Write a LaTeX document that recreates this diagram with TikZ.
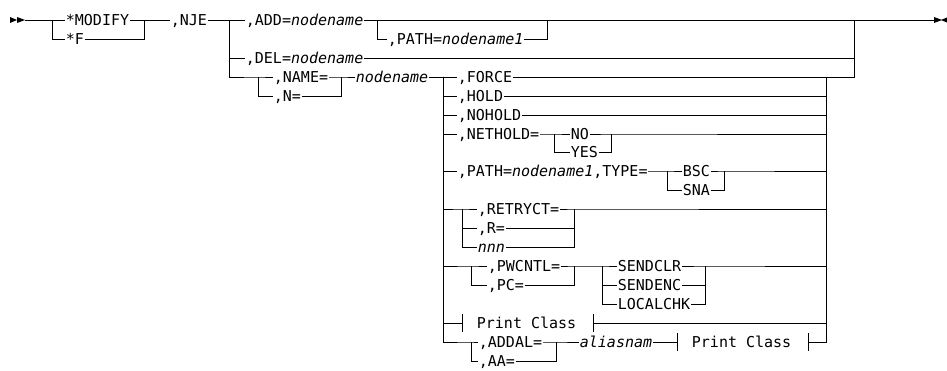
\documentclass[tikz,border=0pt]{standalone}
\usepackage{fontspec}
\newfontfamily\synfont{DejaVu Sans Mono}
\begin{document}
\begin{tikzpicture}[x=1pt, y=-1pt, line width=0.8pt,
    every node/.style={font=\synfont\fontsize{15}{15}\selectfont, anchor=west,
        inner xsep=0.5pt, inner ysep=0pt, text height=11pt, text depth=0pt}]
    \useasboundingbox (0,0) rectangle (947,371);

    \node (modify) at (65,20) {*MODIFY};
    \node (f) at (65,39) {*F};
    \node (nje) at (170,20) {,NJE};
    \node (add) at (245,20) {,ADD=\textit{nodename}};
    \node (path) at (387,39) {,PATH=\textit{nodename1}};
    \node (del) at (245,58) {,DEL=\textit{nodename}};
    \node (name) at (273,77) {,NAME=};
    \node (n) at (273,96) {,N=};
    \node (nodename) at (355,77) {\textit{nodename}};
    \node (force) at (457,77) {,FORCE};
    \node (hold) at (457,96) {,HOLD};
    \node (nohold) at (457,115) {,NOHOLD};
    \node (nethold) at (457,134) {,NETHOLD=};
    \node (no) at (570,134) {NO};
    \node (yes) at (570,152) {YES};
    \node (pathtype) at (457,171) {,PATH=\textit{nodename1},TYPE=};
    \node (bsc) at (682,171) {BSC};
    \node (sna) at (682,190) {SNA};
    \node (retryct) at (477,209) {,RETRYCT=};
    \node (r) at (477,228) {,R=};
    \node (nnn) at (477,247) {\textit{nnn}};
    \node (pwcntl) at (487,266) {,PWCNTL=};
    \node (pc) at (487,285) {,PC=};
    \node (sendclr) at (617,266) {SENDCLR};
    \node (sendenc) at (617,285) {SENDENC};
    \node (localchk) at (617,304) {LOCALCHK};
    \node (pclass) at (476,323) {Print Class};
    \node (addal) at (478,342) {,ADDAL=};
    \node (aa) at (478,361) {,AA=};
    \node (alias) at (579,342) {\textit{aliasnam}};
    \node (pclassb) at (691,342) {Print Class};

    \coordinate (in) at (25,20);
    \coordinate (out) at (934,20);
    \foreach \j/\k/\x/\xx/\y in {j1/k1/52/144/20, j2/k2/229/854/20, j3/k3/377/547/20,
        j4/k4/258/341/77, j5/k5/443/826/77, j6/k6/554/611/134, j7/k7/667/724/171,
        j8/k8/462/574/209, j9/k9/471/574/266, j10/k10/602/705/266, j11/k11/471/556/342} {
        \coordinate (\j) at (\x,\y);
        \coordinate (\k) at (\xx,\y);
    }
    \coordinate (t1) at (462,323);
    \coordinate (t2) at (593,323);
    \coordinate (t3) at (677,342);
    \coordinate (t4) at (808,342);

    \fill (in) -- ++(-8,-3) -- ++(0,6) -- cycle;
    \fill (in) ++(-8,0) -- ++(-7,-3) -- ++(0,6) -- cycle;
    \fill (out) ++(8,0) -- ++(-8,-3) -- ++(0,6) -- cycle;
    \fill (out) ++(7,0) -- ++(7,-3) -- ++(0,6) -- cycle;

    \draw (in) -- (modify.west) (modify.east) -- (nje.west) (nje.east) -- (add.west) (add.east) -- (out);
    \draw (j1) |- (f.west) (f.east) -| (k1);
    \draw (j3) |- (path.west) (path.east) -| (k3);
    \draw (j2) |- (del.west) (del.east) -| (k2);
    \draw (j2) |- (j4) -- (name.west) (name.east) -- (k4) -- (nodename.west) (nodename.east) -- (j5);
    \draw (j4) |- (n.west) (n.east) -| (k4);
    \draw (k5) -| (k2);

    \foreach \o in {force,hold,nohold} {
        \draw (j5) |- (\o.west) (\o.east) -| (k5);
    }
    \draw (j5) |- (nethold.west) (nethold.east) -- (j6) -- (no.west) (no.east) -- (k6) -| (k5);
    \draw (j6) |- (yes.west) (yes.east) -| (k6);
    \draw (j5) |- (pathtype.west) (pathtype.east) -- (j7) -- (bsc.west) (bsc.east) -- (k7) -| (k5);
    \draw (j7) |- (sna.west) (sna.east) -| (k7);

    \draw (j5) |- (j8) -- (retryct.west) (retryct.east) -- (k8) -| (k5);
    \foreach \o in {r,nnn} {
        \draw (j8) |- (\o.west) (\o.east) -| (k8);
    }
    \draw (j5) |- (j9) -- (pwcntl.west) (pwcntl.east) -- (k9) -- (j10) -- (sendclr.west) (sendclr.east) -- (k10) -| (k5);
    \draw (j9) |- (pc.west) (pc.east) -| (k9);
    \foreach \o in {sendenc,localchk} {
        \draw (j10) |- (\o.west) (\o.east) -| (k10);
    }

    \draw (j5) |- (t1) (t2) -| (k5);
    \draw (j5) |- (j11) -- (addal.west) (addal.east) -- (k11) -- (alias.west) (alias.east) -- (t3) (t4) -| (k5);
    \draw (j11) |- (aa.west) (aa.east) -| (k11);
    \foreach \t in {t1,t2,t3,t4} {
        \draw ([yshift=9pt]\t) -- ([yshift=-9pt]\t);
    }
\end{tikzpicture}
\end{document}
